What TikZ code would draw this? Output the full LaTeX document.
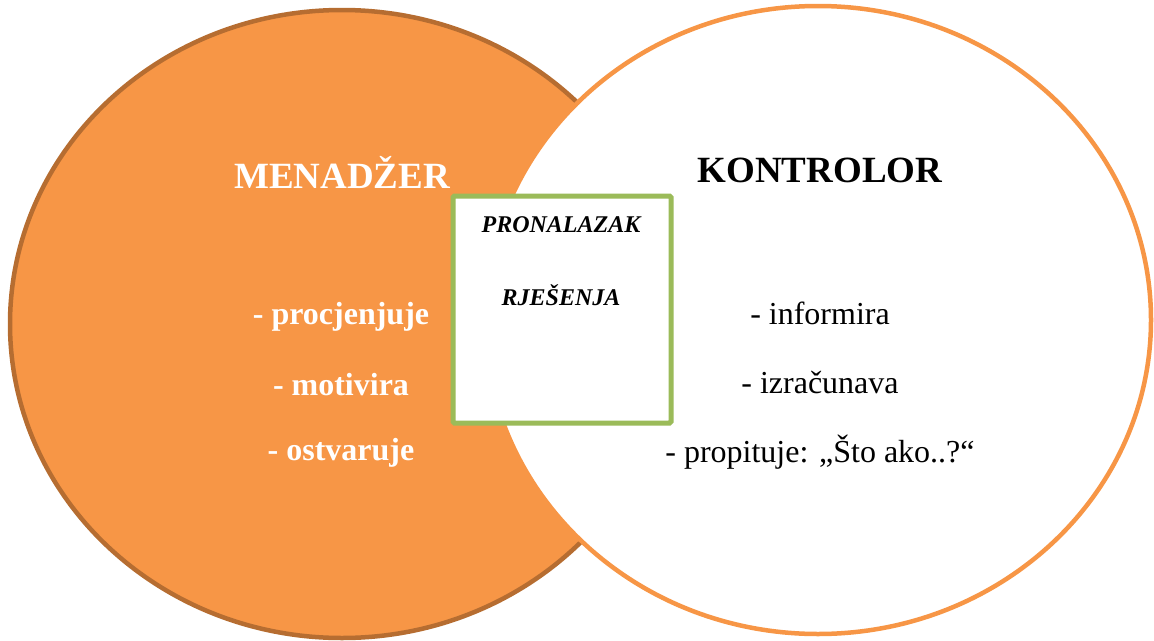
\documentclass[tikz,border=0pt]{standalone}
\usepackage{fontspec}
\setmainfont{Liberation Serif}
\usetikzlibrary{shapes.geometric}
\definecolor{orfill}{HTML}{F79646}
\definecolor{orborder}{HTML}{B66D31}
\definecolor{boxgreen}{HTML}{9BBB59}
\tikzset{
  circL/.style={ellipse, draw=orborder, fill=orfill, line width=4.5pt, inner sep=0pt, minimum width=664pt, minimum height=628pt},
  circR/.style={ellipse, draw=orfill, fill=white, line width=4.5pt, inner sep=0pt, minimum width=666pt, minimum height=628pt},
  greenbox/.style={rectangle, draw=boxgreen, fill=white, line width=5pt, inner sep=0pt, minimum width=218pt, minimum height=227pt, rounded corners=1.5pt},
  title/.style={font=\fontsize{37}{40}\selectfont\bfseries, inner sep=0pt},
  itemL/.style={font=\fontsize{32}{36}\selectfont\bfseries, text=white, inner sep=0pt},
  itemR/.style={font=\fontsize{32}{36}\selectfont, text=black, inner sep=0pt},
  boxtext/.style={font=\fontsize{24}{28}\selectfont\bfseries\itshape, inner sep=0pt}
}
\begin{document}
\begin{tikzpicture}[x=1pt,y=-1pt]
\useasboundingbox (0,0) rectangle (1154,640);
\node[circL] (left) at (342,324) {};
\node[circR] (right) at (818,320) {};
\node[greenbox] (box) at (562,309.5) {};
\node[title, text=white] (men) at (342,172) {MENADŽER};
\node[title, text=black] (kon) at (820,170) {KONTROLOR};
\node[boxtext] (pro) at (561,225) {PRONALAZAK};
\node[boxtext] (rje) at (561,295) {RJEŠENJA};
\node[itemL] (l1) at (341,317) {- procjenjuje};
\node[itemL] (l2) at (341,385) {- motivira};
\node[itemL] (l3) at (341,453) {- ostvaruje};
\node[itemR] (r1) at (820,313) {- informira};
\node[itemR] (r2) at (820,383) {- izračunava};
\node[itemR] (r3) at (820,452) {- propituje: „Što ako..?“};
\end{tikzpicture}
\end{document}
